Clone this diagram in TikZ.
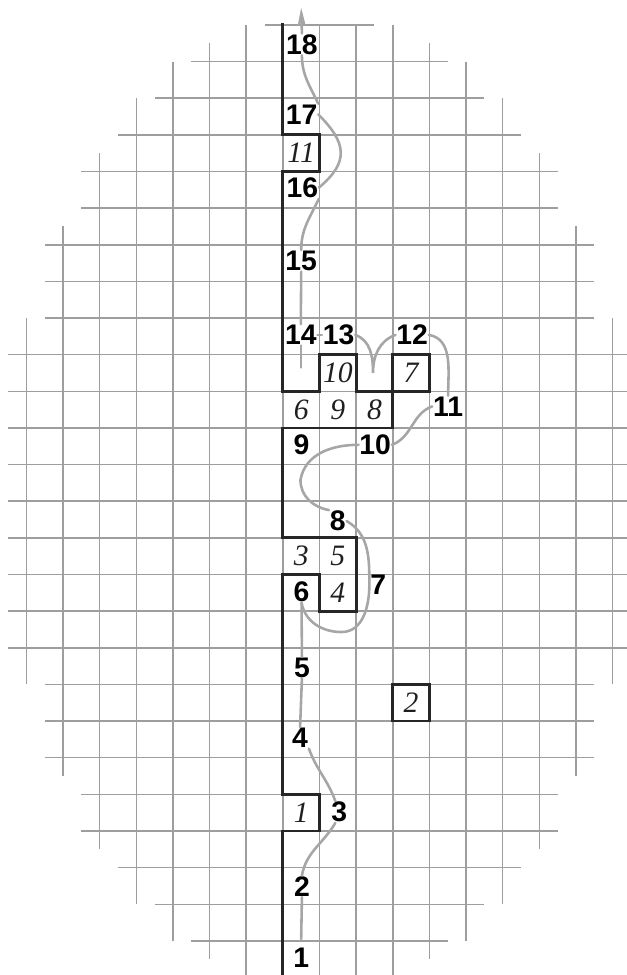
\documentclass[tikz,border=0pt]{standalone}
\usepackage{fontspec}
\setmainfont{Liberation Serif}
\newfontfamily\stepfont{Liberation Sans}
\usetikzlibrary{arrows.meta}

\begin{document}
\begin{tikzpicture}[
  gridline/.style={draw=black!38, line width=1.2pt},
  wall/.style={draw=black!85, line width=2.2pt, line cap=rect, line join=miter},
  route/.style={draw=black!35, line width=2pt, line cap=round},
  visit/.style={font=\stepfont\bfseries\fontsize{22}{22}\selectfont, inner sep=0.5pt},
  cell/.style={font=\itshape\fontsize{23}{23}\selectfont, text=black!88, inner sep=0pt},
]
\useasboundingbox (-7.72,-0.93) rectangle (9.37,25.68);

% Grid: rows (height / half length about column 1)
\foreach \j/\w in {25/1.5, 24/3.5, 23/4.5, 22/5.5, 21/6.5, 20/6.5, 19/7.5, 18/7.5, 17/7.5,
    16/8.5, 15/8.5, 14/8.5, 13/8.5, 12/8.5, 11/8.5, 10/8.5, 9/8.5, 8/8.5,
    7/7.5, 6/7.5, 5/7.5, 4/6.5, 3/6.5, 2/5.5, 1/4.5, 0/3.5}
  \draw[gridline] ({1-\w}, \j) -- ({1+\w}, \j);

% Grid: columns, mirrored about column 1
\foreach \i/\hi/\lo in {-7/17/7, -6/19.5/4.5, -5/21.5/2.5, -4/23/1, -3/24/0,
    -2/24.5/-0.5, -1/25/-1, 0/25/-1, 1/25/-1} {
  \draw[gridline] (\i, \hi) -- (\i, \lo);
  \draw[gridline] ({2-\i}, \hi) -- ({2-\i}, \lo);
}

% Walls
\draw[wall] (0,25) -- (0,22) -- (1,22) -- (1,21) -- (0,21) -- (0,15) -- (1,15) -- (1,16)
  -- (2,16) -- (2,15) -- (4,15) -- (4,16) -- (3,16) -- (3,14) -- (0,14) -- (0,11)
  -- (2,11) -- (2,9) -- (1,9) -- (1,10) -- (0,10) -- (0,4) -- (1,4) -- (1,3) -- (0,3) -- (0,-1);
\draw[wall] (3,6) rectangle (4,7);

% Obstacle cells
\node[cell] (ob1) at (0.5, 3.5) {1};
\node[cell] (ob2) at (3.5, 6.5) {2};
\node[cell] (ob3) at (0.5, 10.5) {3};
\node[cell] (ob4) at (1.5, 9.5) {4};
\node[cell] (ob5) at (1.5, 10.5) {5};
\node[cell] (ob6) at (0.5, 14.5) {6};
\node[cell] (ob7) at (3.5, 15.5) {7};
\node[cell] (ob8) at (2.5, 14.5) {8};
\node[cell] (ob9) at (1.5, 14.5) {9};
\node[cell] (ob10) at (1.5, 15.5) {10};
\node[cell] (ob11) at (0.5, 21.5) {11};

% Steps
\node[visit] (n1) at (0.5, -0.46) {1};
\node[visit] (n2) at (0.52, 1.49) {2};
\node[visit] (n3) at (1.54, 3.52) {3};
\node[visit] (n4) at (0.47, 5.54) {4};
\node[visit] (n5) at (0.52, 7.46) {5};
\node[visit] (n6) at (0.51, 9.53) {6};
\node[visit] (n7) at (2.6, 9.72) {7};
\node[visit] (n8) at (1.5, 11.46) {8};
\node[visit] (n9) at (0.51, 13.54) {9};
\node[visit] (n10) at (2.52, 13.54) {10};
\node[visit] (n11) at (4.51, 14.59) {11};
\node[visit] (n12) at (3.53, 16.54) {12};
\node[visit] (n13) at (1.52, 16.54) {13};
\node[visit] (n14) at (0.49, 16.54) {14};
\node[visit] (n15) at (0.5, 18.56) {15};
\node[visit] (n16) at (0.53, 20.56) {16};
\node[visit] (n17) at (0.51, 22.56) {17};
\node[visit] (n18) at (0.52, 24.47) {18};

\coordinate (start) at (0.5, 0.05);
\coordinate (c67) at (1.6, 8.43);
\coordinate (c89) at (0.48, 12.58);
\coordinate (c1213) at (2.46, 15.5);
\coordinate (c14) at (0.49, 15.65);
\coordinate (goal) at (0.5, 25.47);

% Route
\draw[route] (start) -- (n2.south);
\draw[route] (n2.north) to[out=80, in=-120] (n3.250);
\draw[route] (n3.110) to[out=110, in=-70] (n4.south east);
\draw[route] (n4.north) -- (n5.south);
\draw[route] (n5.north) -- (n6.south);
\draw[route] (n6.south) to[out=-80, in=180] (c67) to[out=0, in=-90] (n7.west)
  to[out=90, in=-30] (n8.east);
\draw[route] (n8.north west) to[out=170, in=-90] (c89) to[out=80, in=180] (n10.west);
\draw[route] (n10.east) to[out=20, in=200] (n11.west);
\draw[route] (n11.north) to[out=90, in=-10] (n12.east);
\draw[route] (n12.west) to[out=200, in=90] (c1213) to[out=90, in=-20] (n13.east);
\draw[route] (n13.west) -- (n14.east);
\draw[route] (n14.south) -- (c14);
\draw[route] (n14.north) -- (n15.south);
\draw[route] (n15.north) to[out=90, in=-115] (n16.south east);
\draw[route] (n16.east) to[out=40, in=-45, looseness=1.4] (n17.east);
\draw[route] (n17.north east) to[out=115, in=-90] (n18.south);
\draw[route, -{Stealth[length=5mm, width=2.2mm, inset=1mm]}] (n18.north) -- (goal);

\end{tikzpicture}
\end{document}
